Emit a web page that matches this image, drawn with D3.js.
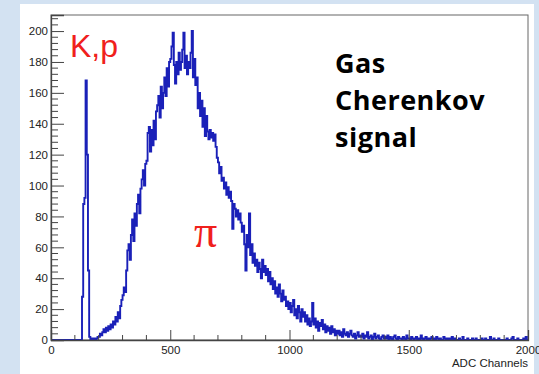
<!DOCTYPE html>
<html>
<head>
<meta charset="utf-8">
<script src="https://cdn.jsdelivr.net/npm/d3@7"></script>
<style>
  html, body { margin: 0; padding: 0; background: #d3e2f2; }
  svg { display: block; }
</style>
</head>
<body>
<script>
// histogram: 5-channel bins from 0 to 2000, one row = 100 channels
var binWidth = 5;
var counts = [
  0,0,0,0,0,0,0,0,0,0,0,0,0,0,0,0,0,0,0,0,
  0,0,0,0,0,0,28,88,92,168,120,45,2,0,1,0,1,0,1,2,
  2,4,3,5,7,5,8,6,9,7,10,8,12,10,15,12,18,14,22,26,
  29,34,31,45,58,62,52,68,78,64,82,74,88,94,82,98,104,110,100,114,
  116,134,138,122,136,126,142,130,148,152,158,144,164,150,160,170,158,176,164,180,
  182,190,199,178,166,180,172,186,175,180,188,199,176,184,172,180,176,186,200,170,
  182,165,170,150,160,145,155,138,150,132,145,135,130,136,131,134,129,133,125,118,
  115,108,112,103,105,98,102,94,99,92,96,90,72,88,85,80,84,78,82,76,
  70,74,62,45,68,60,82,55,62,50,56,48,52,44,50,46,40,52,44,48,
  42,46,38,44,36,40,33,38,30,34,28,36,30,25,32,26,28,22,25,20,
  24,18,22,26,16,20,14,22,18,12,20,15,18,12,16,10,14,9,12,24,
  10,14,8,12,6,11,9,13,7,10,5,9,6,8,4,9,5,7,3,6,
  4,6,3,5,2,7,4,3,5,2,4,6,3,2,4,1,3,5,2,3,
  2,4,1,3,2,5,1,2,3,0,2,4,1,2,3,1,0,2,3,1,
  2,1,3,0,2,1,0,2,3,1,0,2,1,1,0,2,1,0,3,1,
  1,0,2,1,0,1,2,0,1,0,3,1,0,1,2,0,1,0,1,2,
  0,1,0,2,1,0,1,0,0,2,1,0,1,0,1,0,2,0,1,0,
  0,0,1,0,0,2,0,0,0,1,0,0,0,1,0,0,1,0,0,0,
  0,1,0,0,1,0,0,0,2,0,0,1,0,0,0,1,0,0,0,0,
  0,0,1,0,0,0,1,2,0,0,0,1,0,0,0,0,1,0,2,0
];

var xTicks = [0, 500, 1000, 1500, 2000];
var yTicks = [0, 20, 40, 60, 80, 100, 120, 140, 160, 180, 200];
var xTitle = "ADC Channels";
var labelKp = "K,p";
var labelPi = "\u03c0";
var titleLines = ["Gas", "Cherenkov", "signal"];

var W = 539, H = 374;
var svg = d3.select("body").append("svg")
    .attr("width", W)
    .attr("height", H);

// white slide panel
svg.append("rect")
    .attr("x", 20).attr("y", 4)
    .attr("width", 514).attr("height", 370)
    .attr("fill", "#ffffff");

var padL = 51, padR = 528, padT = 15, padB = 340;

var x = d3.scaleLinear().domain([0, 2000]).range([padL, padR]);
var y = d3.scaleLinear().domain([0, 210.4]).range([padB, padT]);

var axisColor = "#444";
var tickFont = "Liberation Sans, Arial, Helvetica, sans-serif";

// frame
svg.append("rect")
    .attr("x", padL).attr("y", padT)
    .attr("width", padR - padL).attr("height", padB - padT)
    .attr("fill", "none")
    .attr("stroke", "#666")
    .attr("stroke-width", 1);

// histogram outline (step)
var pts = [[0, 0]];
counts.forEach(function(c, i) {
    pts.push([i * binWidth, c]);
    pts.push([(i + 1) * binWidth, c]);
});
pts.push([2000, 0]);

svg.append("clipPath").attr("id", "clip")
    .append("rect")
    .attr("x", padL).attr("y", padT)
    .attr("width", padR - padL).attr("height", padB - padT + 1);

svg.append("path")
    .datum(pts)
    .attr("clip-path", "url(#clip)")
    .attr("fill", "none")
    .attr("stroke", "#1a20b8")
    .attr("stroke-width", 1.9)
    .attr("stroke-linejoin", "miter")
    .attr("d", d3.line()
        .x(function(d) { return x(d[0]); })
        .y(function(d) { return y(d[1]); }));

// x axis: ticks point up into the frame
var xAxis = d3.axisBottom(x)
    .tickValues(xTicks)
    .tickSize(-10)
    .tickPadding(6)
    .tickFormat(d3.format("d"));

var gx = svg.append("g")
    .attr("transform", "translate(0," + padB + ")")
    .call(xAxis);

gx.select(".domain").attr("stroke", axisColor).attr("stroke-width", 1.3);
gx.selectAll(".tick line").attr("stroke", axisColor);
gx.selectAll(".tick text")
    .attr("font-family", tickFont)
    .attr("font-size", 11.5)
    .attr("fill", "#222");

gx.selectAll(".minor")
    .data(d3.range(0, 2001, 100).filter(function(v) { return v % 500 !== 0; }))
    .enter().append("line")
    .attr("x1", function(d) { return x(d); })
    .attr("x2", function(d) { return x(d); })
    .attr("y1", 0).attr("y2", -5)
    .attr("stroke", axisColor);

// y axis: ticks point right into the frame
var yAxis = d3.axisLeft(y)
    .tickValues(yTicks)
    .tickSize(-13)
    .tickPadding(3)
    .tickFormat(d3.format("d"));

var gy = svg.append("g")
    .attr("transform", "translate(" + padL + ",0)")
    .call(yAxis);

gy.select(".domain").attr("stroke", axisColor).attr("stroke-width", 1.3);
gy.selectAll(".tick line").attr("stroke", axisColor);
gy.selectAll(".tick text")
    .attr("font-family", tickFont)
    .attr("font-size", 11.5)
    .attr("fill", "#222");

gy.selectAll(".minor")
    .data(d3.range(0, 209, 4).filter(function(v) { return v % 20 !== 0; }))
    .enter().append("line")
    .attr("x1", 0).attr("x2", 7)
    .attr("y1", function(d) { return y(d); })
    .attr("y2", function(d) { return y(d); })
    .attr("stroke", axisColor);

// axis title
svg.append("text")
    .attr("x", padR)
    .attr("y", 367)
    .attr("text-anchor", "end")
    .attr("font-family", tickFont)
    .attr("font-size", 11.5)
    .attr("fill", "#222")
    .text(xTitle);

// annotations
svg.append("text")
    .attr("x", 70)
    .attr("y", 57)
    .attr("font-family", "Liberation Sans, Arial, sans-serif")
    .attr("font-size", 32)
    .attr("fill", "#f0201c")
    .text(labelKp);

svg.append("text")
    .attr("x", 194)
    .attr("y", 247)
    .attr("font-family", "Liberation Serif, Times New Roman, serif")
    .attr("font-size", 46)
    .attr("fill", "#f0201c")
    .text(labelPi);

svg.append("g").selectAll("text")
    .data(titleLines)
    .enter().append("text")
    .attr("x", 335)
    .attr("y", function(d, i) { return 73 + i * 37; })
    .attr("font-family", "Open Sans, Lato, sans-serif")
    .attr("font-weight", "bold")
    .attr("font-size", 27)
    .attr("letter-spacing", 0.5)
    .attr("fill", "#000")
    .text(function(d) { return d; });
</script>
</body>
</html>
